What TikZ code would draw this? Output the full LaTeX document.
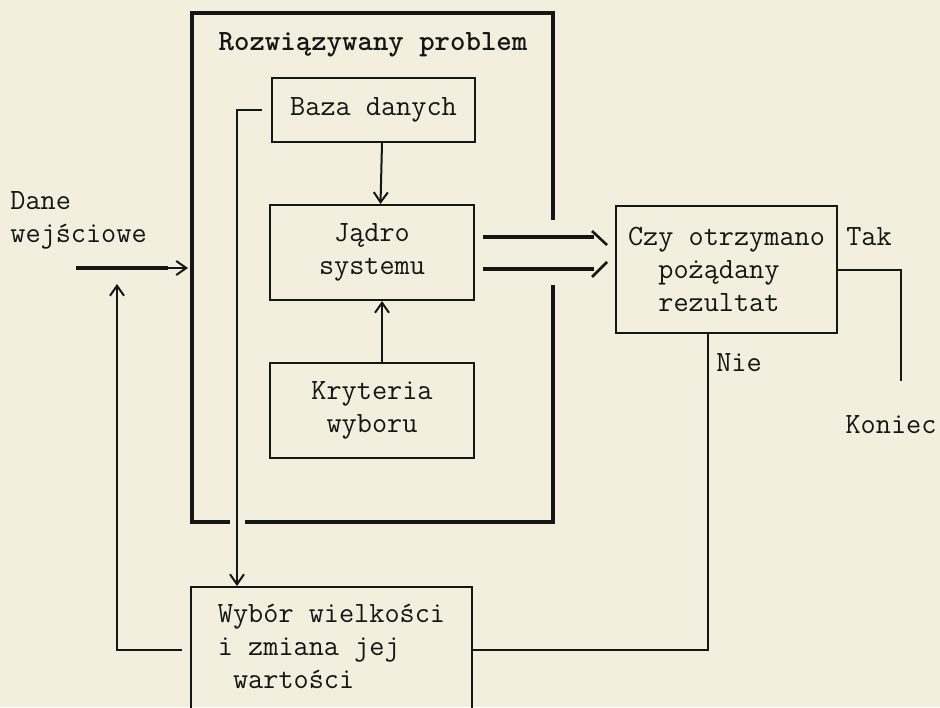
\documentclass[tikz,border=0pt]{standalone}
\usetikzlibrary{arrows.meta}
\definecolor{papier}{RGB}{242,239,222}
\definecolor{tusz}{RGB}{22,22,22}
\begin{document}
\begin{tikzpicture}[x=0.5pt,y=-0.5pt,>={Straight Barb[length=5pt,width=7pt]},
  font=\ttfamily\fontsize{14.7}{16.5}\selectfont,text=tusz,
  blok/.style={draw=tusz,line width=1pt,inner sep=0pt,align=center},
  gruba/.style={draw=tusz,line width=2.3pt},
  cienka/.style={draw=tusz,line width=1pt}]
\fill[papier](0,0)rectangle(940,707);
\useasboundingbox(0,0)rectangle(940,707);
\clip(0,0)rectangle(940,707);
% ramka problemu
\draw[gruba](553,220)--(553,13)--(192,13)--(192,522)--(230,522)
  (245,522)--(553,522)--(553,285);
\node (tytul) at (373,45) {\bfseries Rozwiązywany problem};
\node[blok,minimum width=101.5pt,minimum height=32pt] (baza) at (373.5,110) {Baza danych};
\node[blok,minimum width=102pt,minimum height=47.5pt] (jadro) at (372,252.5) {Jądro\\systemu};
\node[blok,minimum width=102pt,minimum height=47.5pt] (kryteria) at (372,410.5) {Kryteria\\wyboru};
\node[blok,align=left,minimum width=110.5pt,minimum height=63.5pt] (czy) at (726.5,269.5)
  {Czy otrzymano\\\hphantom{Cz}pożądany\\\hphantom{Cz}rezultat};
\node[blok,align=left,anchor=north,minimum width=140.5pt,minimum height=75.5pt] (wybor) at (331.5,586)
  {Wybór wielkości\\i zmiana jej\\\hphantom{w}wartości\\\mbox{}};
\node[anchor=west,align=left,inner sep=0pt] (dane) at (10,220) {Dane\\wejściowe};
\node[inner sep=0pt] (tak) at (869,237) {Tak};
\node[inner sep=0pt] (nie) at (739,363) {Nie};
\node[inner sep=0pt] (koniec) at (891,425) {Koniec};
% polaczenia
\draw[cienka,->]([xshift=4.25pt]baza.south)--([xshift=4.25pt]jadro.north);
\draw[cienka,->]([xshift=5pt]kryteria.north)--([xshift=5pt]jadro.south);
\draw[cienka,->]([xshift=-4.5pt]baza.west)-|([xshift=23.5pt]wybor.north west);
\coordinate (we) at (76,268);
\coordinate (rama) at (188,268);
\draw[gruba](we)--++(92,0)coordinate(we2);
\draw[cienka,->](we2)--(rama);
\coordinate (powrot) at (117,284);
\draw[cienka,->]([shift={(-8,64)}]wybor.north west)-|(powrot);
\draw[cienka]([xshift=-9.25pt]czy.south)|-([shift={(0,64)}]wybor.north east);
\coordinate (koniecG) at (901,381);
\draw[cienka](czy.east)-|(koniecG);
\draw[gruba]([shift={(8,-15.5)}]jadro.east)--++(111,0);
\draw[gruba]([shift={(8,16.5)}]jadro.east)--++(111,0);
\draw[cienka,line width=1.3pt]([shift={(-23,-38.5)}]czy.west)--([shift={(-8,-24.5)}]czy.west);
\draw[cienka,line width=1.3pt]([shift={(-23,7.5)}]czy.west)--([shift={(-8,-7.5)}]czy.west);
\end{tikzpicture}
\end{document}
